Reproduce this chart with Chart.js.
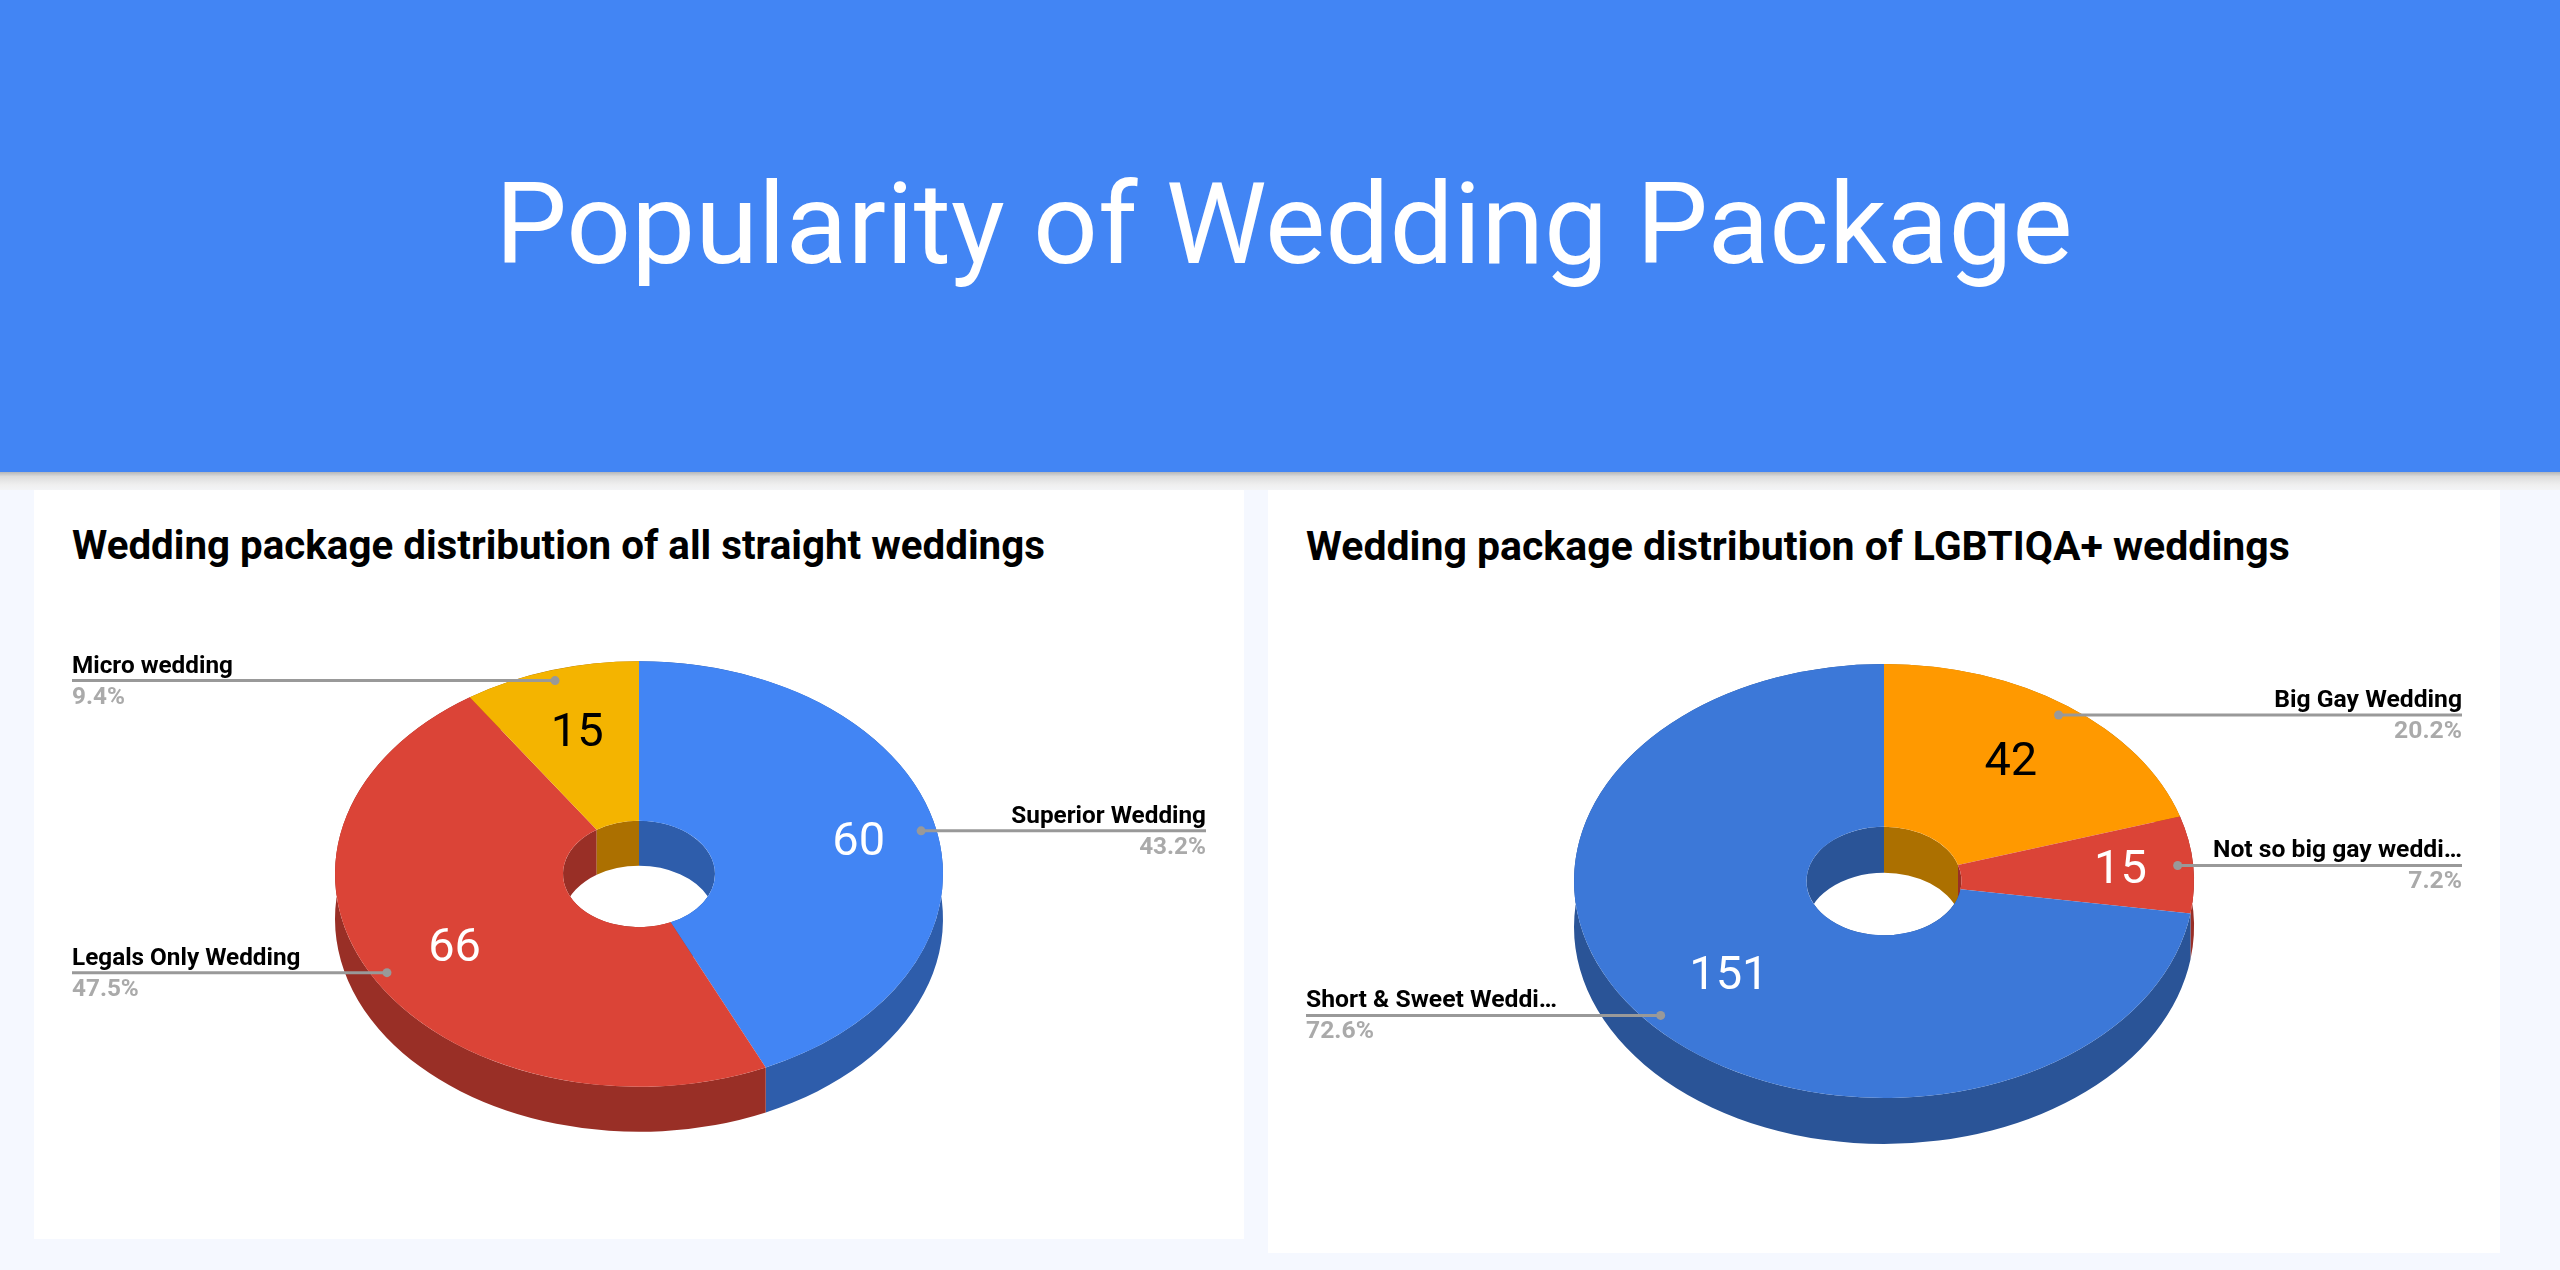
<!DOCTYPE html>
<html lang="en">
<head>
<meta charset="UTF-8" />
<title>Popularity of Wedding Package</title>
<style>
  html, body { margin: 0; padding: 0; }
  body {
    width: 2560px; height: 1270px;
    overflow: hidden;
    position: relative;
    background: #f5f8ff;
    font-family: 'Roboto', sans-serif;
  }
  header {
    position: absolute; left: 0; top: 0;
    width: 2560px; height: 472px;
    background: #4285f4;
  }
  .shade {
    position: absolute; left: 0; top: 472px;
    width: 2560px; height: 18px;
    background: linear-gradient(#b4b6ba, #dcdcdc 25%, #efefef 70%, #f3f4f6);
  }
  h1 {
    position: absolute; left: 4px; top: 159px; width: 100%;
    margin: 0;
    text-align: center;
    color: #fff;
    font-size: 113.8px; font-weight: 400; line-height: 130px;
  }
  .card { position: absolute; background: #fff; top: 490px; }
  #cardLeft { left: 34px; width: 1210px; height: 749px; }
  #cardRight { left: 1268px; width: 1232px; height: 763px; }
  .card h2 {
    position: absolute; left: 38px; top: 33px;
    margin: 0;
    font-weight: 700; line-height: 46px;
    color: #000;
    white-space: nowrap;
  }
  #cardLeft h2 { font-size: 40.3px; }
  #cardRight h2 { font-size: 41px; }
  canvas { position: absolute; left: 0; top: 0; }
</style>
</head>
<body>
  <header><h1>Popularity of Wedding Package</h1></header>
  <div class="shade"></div>
  <div class="card" id="cardLeft">
    <h2>Wedding package distribution of all straight weddings</h2>
    <canvas id="straightChart" width="1210" height="749"></canvas>
  </div>
  <div class="card" id="cardRight">
    <h2>Wedding package distribution of LGBTIQA+ weddings</h2>
    <canvas id="lgbtChart" width="1232" height="763"></canvas>
  </div>

  <script src="https://cdn.jsdelivr.net/npm/chart.js"></script>
  <script>
  const straightLabels = ['Superior Wedding', 'Legals Only Wedding', 'Micro wedding'];
  const straightShares = [43.2, 47.5, 9.4];
  const straightCounts = [60, 66, 15];

  const lgbtLabels = ['Big Gay Wedding', 'Not so big gay weddi…', 'Short & Sweet Weddi…'];
  const lgbtShares = [20.2, 7.2, 72.6];
  const lgbtCounts = [42, 15, 151];

  const SQUASH = 0.7;
  const FONT = "'Roboto', sans-serif";

  // tilted pie: walls are bands under the chart's arcs, top face is the chart's own doughnut
  const tiltPlugin = {
    id: 'tilt',
    beforeDatasetsDraw(chart, args, o) {
      const ctx = chart.ctx;
      const arcs = chart.getDatasetMeta(0).data;
      const cx = arcs[0].x, cy = arcs[0].y;
      ctx.save();
      ctx.translate(cx, cy);
      ctx.scale(1, SQUASH);
      ctx.translate(-cx, -cy);
      arcs.forEach((arc, i) => {
        ctx.fillStyle = o.wallColors[i];
        [arc.outerRadius, arc.innerRadius].forEach(r => {
          ctx.beginPath();
          ctx.arc(arc.x, arc.y, r, arc.startAngle, arc.endAngle);
          ctx.arc(arc.x, arc.y + o.depth / SQUASH, r, arc.endAngle, arc.startAngle, true);
          ctx.closePath();
          ctx.fill();
        });
      });
    },
    afterDatasetsDraw(chart, args, o) {
      const ctx = chart.ctx;
      ctx.restore();
      const arcs = chart.getDatasetMeta(0).data;
      const labels = chart.data.labels;
      const shares = chart.data.datasets[0].data;
      arcs.forEach((arc, i) => {
        const mid = (arc.startAngle + arc.endAngle) / 2;
        const at = r => ({
          x: arc.x + Math.cos(mid) * arc.outerRadius * r,
          y: arc.y + Math.sin(mid) * arc.outerRadius * r * SQUASH
        });

        // value inside the slice
        const v = at(o.valueRatio[i]);
        ctx.font = '47px ' + FONT;
        ctx.textAlign = 'center';
        ctx.textBaseline = 'middle';
        ctx.fillStyle = o.valueColors[i];
        ctx.fillText(o.counts[i], v.x, v.y + 3);

        // leader line, name above, share below
        const p = at(0.95);
        const onRight = Math.cos(mid) > 0;
        const edge = onRight ? chart.width - 38 : 38;
        ctx.strokeStyle = '#999999';
        ctx.lineWidth = 3;
        ctx.beginPath();
        ctx.moveTo(p.x, p.y);
        ctx.lineTo(edge, p.y);
        ctx.stroke();
        ctx.fillStyle = '#999999';
        ctx.beginPath();
        ctx.arc(p.x, p.y, 4.5, 0, Math.PI * 2);
        ctx.fill();

        ctx.textAlign = onRight ? 'right' : 'left';
        ctx.textBaseline = 'alphabetic';
        ctx.font = '700 ' + o.labelSize + 'px ' + FONT;
        ctx.fillStyle = '#000';
        ctx.fillText(labels[i], edge, p.y - 8);
        ctx.fillStyle = '#aaaaaa';
        ctx.fillText(shares[i].toFixed(1) + '%', edge, p.y + 23);
      });
    }
  };

  function makePie(id, labels, shares, counts, colors, wallColors, valueColors, valueRatio, padding, depth, labelSize) {
    return new Chart(document.getElementById(id), {
      type: 'doughnut',
      data: {
        labels: labels,
        datasets: [{
          data: shares,
          backgroundColor: colors,
          borderWidth: 0,
          clip: false
        }]
      },
      options: {
        responsive: false,
        animation: false,
        cutout: '25%',
        layout: { padding: padding },
        plugins: {
          legend: { display: false },
          tooltip: { enabled: false },
          tilt: { counts, wallColors, valueColors, valueRatio, depth, labelSize }
        }
      },
      plugins: [tiltPlugin]
    });
  }

  makePie('straightChart', straightLabels, straightShares, straightCounts,
    ['#4285f4', '#db4437', '#f4b400'],
    ['#2e5dab', '#992f26', '#ac7000'],
    ['#fff', '#fff', '#000'],
    [0.74, 0.695, 0.7],
    { top: 80, bottom: 61 }, 45, 24.3);

  makePie('lgbtChart', lgbtLabels, lgbtShares, lgbtCounts,
    ['#ff9900', '#db4437', '#3c78d8'],
    ['#ac7000', '#992f26', '#2a5497'],
    ['#000', '#fff', '#fff'],
    [0.69, 0.765, 0.66],
    { top: 81, bottom: 62 }, 46, 24.7);
  </script>
</body>
</html>
